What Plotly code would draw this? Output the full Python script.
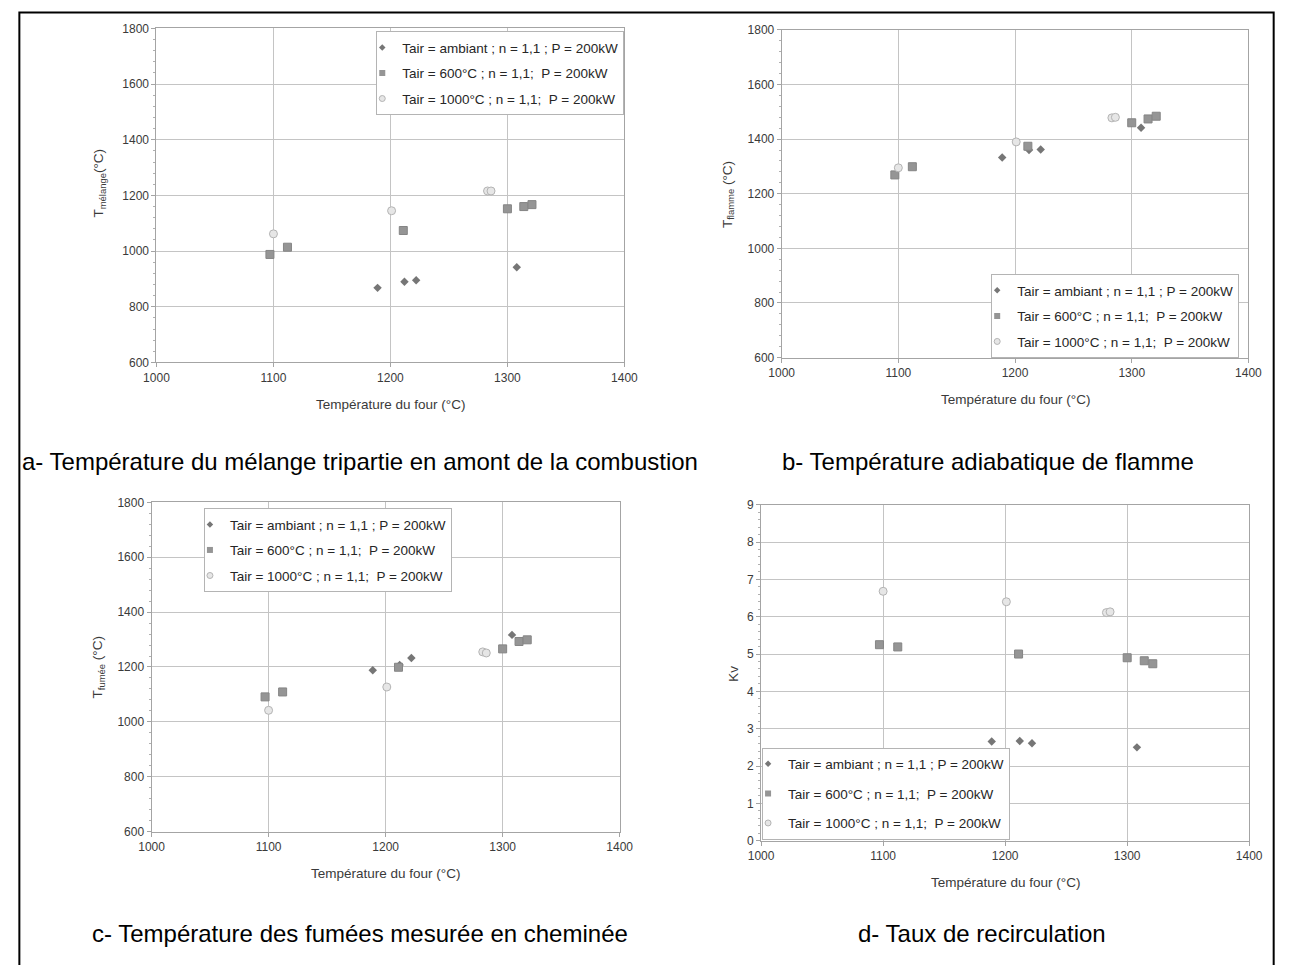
import plotly.graph_objects as go

# ---------------- data ----------------
four_ambiant = [1189, 1212, 1222, 1308]
four_600 = [1097, 1112, 1211, 1300, 1314, 1321]
four_1000 = [1100, 1201, 1283, 1286]

melange_ambiant = [868, 890, 895, 942]
melange_600 = [988, 1014, 1074, 1152, 1160, 1167]
melange_1000 = [1062, 1145, 1216, 1216]

flamme_ambiant = [1333, 1360, 1362, 1442]
flamme_600 = [1269, 1299, 1374, 1460, 1474, 1484]
flamme_1000 = [1295, 1390, 1478, 1480]

fumee_ambiant = [1188, 1207, 1233, 1317]
fumee_600 = [1091, 1109, 1199, 1266, 1293, 1299]
fumee_1000 = [1042, 1127, 1255, 1251]

kv_ambiant = [2.66, 2.67, 2.61, 2.50]
kv_600 = [5.25, 5.19, 5.00, 4.90, 4.82, 4.74]
kv_1000 = [6.68, 6.40, 6.11, 6.13]

series_names = [
    "Tair = ambiant ; n = 1,1 ; P = 200kW",
    "Tair = 600°C ; n = 1,1;  P = 200kW",
    "Tair = 1000°C ; n = 1,1;  P = 200kW",
]
x_title = "Température du four (°C)"
y_titles = ["T<sub>mélange</sub>(°C)", "T<sub>flamme</sub> (°C)",
            "T<sub>fumée</sub> (°C)", "Kv"]
captions = [
    "a- Température du mélange tripartie en amont de la combustion",
    "b- Température adiabatique de flamme",
    "c- Température des fumées mesurée en cheminée",
    "d- Taux de recirculation",
]

# ---------------- geometry helpers (screen pixels -> paper) ----------------
W, H = 1296, 965


def px(X):
    return X / W


def py(Y):
    return 1 - Y / H


FONT = "Liberation Sans, Arial, sans-serif"
TICKC = "#3a3a3a"

styles = [
    dict(symbol="diamond", size=6.5, color="#767676", line=dict(width=0)),
    dict(symbol="square", size=8, color="#959595", line=dict(width=1, color="#858585")),
    dict(symbol="circle", size=8, color="#e6e6e6", line=dict(width=1, color="#b4b4b4")),
]
leg_styles = [
    dict(symbol="diamond", size=5, color="#767676", line=dict(width=0)),
    dict(symbol="square", size=6, color="#959595", line=dict(width=0)),
    dict(symbol="circle", size=6, color="#e6e6e6", line=dict(width=1, color="#b4b4b4")),
]

panels = [
    dict(data=[(four_ambiant, melange_ambiant), (four_600, melange_600), (four_1000, melange_1000)],
         xd=(146.5, 624.4), yd=(21.7, 360.7), yr=[600, 1800], dt=200, mdt=40,
         leg=(371, 24.5), gap=5, ytp=(88, 179), xtp=403, cap=(354, 461)),
    dict(data=[(four_ambiant, flamme_ambiant), (four_600, flamme_600), (four_1000, flamme_1000)],
         xd=(785, 1261.7), yd=(23.3, 355.7), yr=[600, 1800], dt=200, mdt=40,
         leg=(999, 271), gap=5, ytp=(730, 190), xtp=398, cap=(996, 461)),
    dict(data=[(four_ambiant, fumee_ambiant), (four_600, fumee_600), (four_1000, fumee_1000)],
         xd=(141.5, 619.6), yd=(502.7, 836.7), yr=[600, 1800], dt=200, mdt=40,
         leg=(195, 508.5), gap=5, ytp=(87, 670), xtp=879, cap=(354, 940)),
    dict(data=[(four_ambiant, kv_ambiant), (four_600, kv_600), (four_1000, kv_1000)],
         xd=(764, 1262.5), yd=(505, 846), yr=[0, 9], dt=1, mdt=0.2,
         leg=(765, 751.5), gap=9, ytp=(736, 677), xtp=888, cap=(990, 940)),
]

fig = go.Figure()
annotations = []
layout = {}

for i, p in enumerate(panels):
    k = "" if i == 0 else str(i + 1)
    legname = "legend" if i == 0 else f"legend{i + 1}"
    for j, (xs, ys) in enumerate(p["data"]):
        fig.add_trace(go.Scatter(
            x=xs, y=ys, mode="markers", name=series_names[j],
            marker=styles[j], xaxis=f"x{k}", yaxis=f"y{k}",
            showlegend=False, cliponaxis=False,
        ))
    # legend keys (smaller symbols, as in the reference)
    for j in range(3):
        fig.add_trace(go.Scatter(
            x=[None], y=[None], mode="markers", name=series_names[j],
            marker=leg_styles[j], xaxis=f"x{k}", yaxis=f"y{k}",
            legend=legname, legendgroup=f"g{i}{j}", showlegend=True,
        ))
    layout[f"xaxis{k}"] = dict(
        domain=[px(p["xd"][0]), px(p["xd"][1])], anchor=f"y{k}",
        range=[1000, 1400], dtick=100, tick0=1000,
        showgrid=True, gridcolor="#c4c4c4", gridwidth=1,
        showline=True, linecolor="#a4a4a4", linewidth=1, mirror=True,
        ticks="outside", ticklen=4, tickcolor="#a4a4a4",
        tickfont=dict(family=FONT, size=12, color=TICKC),
        zeroline=False, fixedrange=True,
    )
    layout[f"yaxis{k}"] = dict(
        domain=[py(p["yd"][1]), py(p["yd"][0])], anchor=f"x{k}",
        range=p["yr"], dtick=p["dt"], tick0=p["yr"][0],
        showgrid=True, gridcolor="#c4c4c4", gridwidth=1,
        showline=True, linecolor="#a4a4a4", linewidth=1, mirror=True,
        ticks="outside", ticklen=4, tickcolor="#a4a4a4",
        minor=dict(ticks="outside", ticklen=2, dtick=p["mdt"], tickcolor="#b0b0b0", showgrid=False),
        tickfont=dict(family=FONT, size=12, color=TICKC),
        zeroline=False, fixedrange=True,
    )
    layout[legname] = dict(
        x=px(p["leg"][0]), y=py(p["leg"][1]), xanchor="left", yanchor="top",
        xref="paper", yref="paper",
        bgcolor="white", bordercolor="#b4b4b4", borderwidth=1,
        font=dict(family=FONT, size=13.5, color="#262626"),
        tracegroupgap=p["gap"], indentation=-15,
    )
    annotations.append(dict(
        x=px(p["ytp"][0]), y=py(p["ytp"][1]), xref="paper", yref="paper",
        text=y_titles[i], textangle=-90, showarrow=False,
        xanchor="center", yanchor="middle",
        font=dict(family=FONT, size=13.5, color=TICKC),
    ))
    annotations.append(dict(
        x=px((p["xd"][0] + p["xd"][1]) / 2), y=py(p["xtp"]), xref="paper", yref="paper",
        text=x_title, showarrow=False, xanchor="center", yanchor="middle",
        font=dict(family=FONT, size=13.5, color=TICKC),
    ))
    annotations.append(dict(
        x=px(p["cap"][0]), y=py(p["cap"][1]), xref="paper", yref="paper",
        text=captions[i], showarrow=False, xanchor="center", yanchor="middle",
        font=dict(family=FONT, size=24, color="#000000"),
    ))

fig.update_layout(
    width=W, height=H, margin=dict(l=0, r=0, t=0, b=0),
    paper_bgcolor="white", plot_bgcolor="rgba(0,0,0,0)",
    annotations=annotations,
    shapes=[dict(type="rect", xref="paper", yref="paper",
                 x0=px(6.5), x1=px(1287.5), y0=py(1100), y1=py(5.5),
                 line=dict(color="black", width=2))],
    **layout,
)

fig.write_html(
    "out.html",
    config={"displayModeBar": False},
    post_script="document.body.style.margin='0';document.body.style.overflow='hidden';",
)
